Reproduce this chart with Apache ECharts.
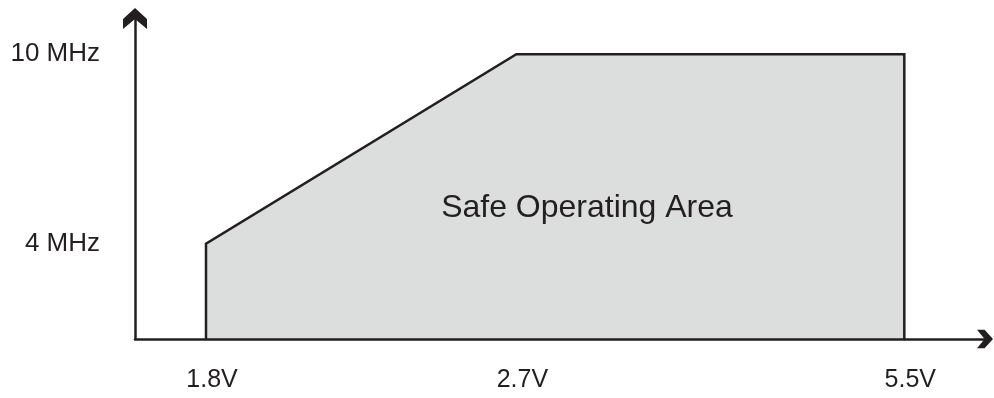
<!DOCTYPE html>
<html><head><meta charset="utf-8">
<script src="https://cdn.jsdelivr.net/npm/echarts@6/dist/echarts.min.js"></script>
<style>html,body{margin:0;padding:0;background:#fff}#c{width:994px;height:398px}</style>
</head><body><div id="c"></div>
<script>
// Schematic chart (not to scale): voltage stops as drawn on the axis
const voltageLabels = ['1.8V', '2.7V', '5.5V'];
const voltageSlots = [1, 5, 10];
// Max frequency (MHz) at the voltage stops
const frequencyMHz = [4, 10];
const frequencyLabels = ['4 MHz', '10 MHz'];
const areaLabel = 'Safe Operating Area';

const INK = '#231f20';
const FONT = '"Liberation Sans", Arial, Helvetica, sans-serif';
const yMin = 0.98, yMax = 11.13;
const xMin = 0.085, xMax = 11.04;

const areaData = [
  [voltageSlots[0], yMin],
  [voltageSlots[0], frequencyMHz[0]],
  [voltageSlots[1], frequencyMHz[1]],
  [voltageSlots[2], frequencyMHz[1]],
  [voltageSlots[2], yMin]
];
const chevron = 'path://M12 0L24 11L24 21L12 11L0 21L0 11Z';

const chart = echarts.init(document.getElementById('c'), null, {renderer: 'canvas'});
chart.setOption({
  animation: false,
  backgroundColor: '#fff',
  grid: {left: 135, right: 9, top: 18.5, bottom: 59, containLabel: false, outerBoundsMode: 'none'},
  xAxis: {
    type: 'value', min: xMin, max: xMax, z: 5,
    splitLine: {show: false}, axisTick: {show: false},
    axisLine: {show: true, onZero: false, lineStyle: {color: INK, width: 2.5},
      symbol: ['none', chevron], symbolSize: [26, 16]},
    axisLabel: {
      customValues: voltageSlots,
      formatter: v => voltageLabels[voltageSlots.indexOf(v)] || '',
      color: INK, fontFamily: FONT, fontSize: 25, margin: 29, padding: [0, 0, 0, 12]
    }
  },
  yAxis: {
    type: 'value', min: yMin, max: yMax, z: 5,
    splitLine: {show: false}, axisTick: {show: false},
    axisLine: {show: true, onZero: false, lineStyle: {color: INK, width: 2.5},
      symbol: ['none', chevron], symbolSize: [24, 21]},
    axisLabel: {
      customValues: frequencyMHz,
      formatter: v => frequencyLabels[frequencyMHz.indexOf(v)] || '',
      color: INK, fontFamily: FONT, fontSize: 26, margin: 35
    }
  },
  series: [{
    type: 'line',
    data: areaData,
    showSymbol: false,
    symbol: 'none',
    clip: false,
    lineStyle: {color: INK, width: 2.5, join: 'miter'},
    areaStyle: {color: '#dcdddd', opacity: 1, origin: 'start'},
    z: 2
  }],
  graphic: [{
    type: 'text', x: 587, y: 208, z: 10,
    style: {text: areaLabel, fill: INK, font: '32px ' + FONT, align: 'center', verticalAlign: 'middle'}
  }]
});
</script></body></html>
